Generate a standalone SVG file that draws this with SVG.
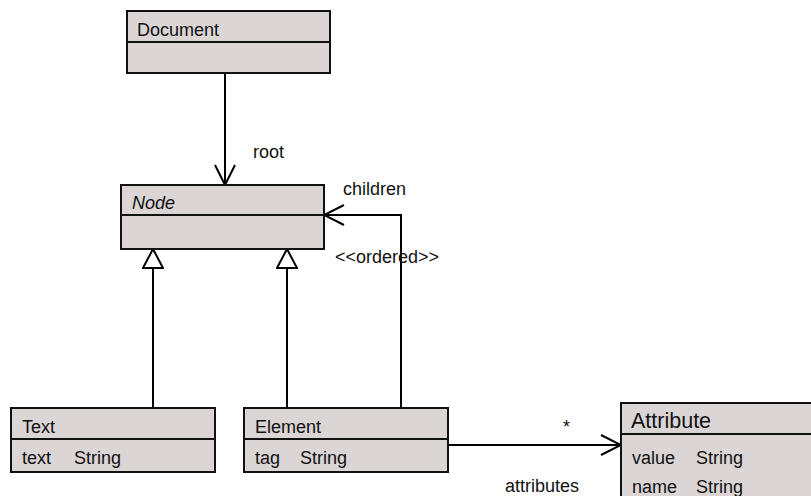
<svg xmlns="http://www.w3.org/2000/svg" width="811" height="496" viewBox="0 0 811 496">
<defs>
<style>
.box{fill:#dbd5d5;stroke:#111;stroke-width:2}
.div{stroke:#111;stroke-width:2}
.ln{fill:none;stroke:#000;stroke-width:2}
.t{font-family:"Liberation Sans",Arial,sans-serif;font-size:18px;fill:#111}
.big{font-size:21.5px}
.it{font-style:italic}
</style>
<marker id="open" viewBox="0 0 22 24" refX="21" refY="12" markerWidth="22" markerHeight="24" markerUnits="userSpaceOnUse" orient="auto">
<path d="M1,2 L21,12 L1,22" fill="none" stroke="#000" stroke-width="2"/>
</marker>
<marker id="tri" viewBox="0 0 22 22" refX="20" refY="11" markerWidth="22" markerHeight="22" markerUnits="userSpaceOnUse" orient="auto">
<path d="M1,1 L20,11 L1,21 Z" fill="#fff" stroke="#000" stroke-width="2"/>
</marker>
</defs>
<rect width="811" height="496" fill="#fff"/>
<g id="connectors">
<line class="ln" x1="225" y1="73" x2="225" y2="185" marker-end="url(#open)"/>
<line class="ln" x1="153" y1="408" x2="153" y2="249" marker-end="url(#tri)"/>
<line class="ln" x1="287" y1="408" x2="287" y2="249" marker-end="url(#tri)"/>
<polyline class="ln" points="401,408 401,215 324,215" marker-end="url(#open)"/>
<line class="ln" x1="448" y1="445" x2="621" y2="445" marker-end="url(#open)"/>
<text class="t" x="253" y="158">root</text>
<text class="t" x="343" y="195">children</text>
<text class="t" x="335" y="263">&lt;&lt;ordered&gt;&gt;</text>
<text class="t" x="563" y="433">*</text>
<text class="t" x="505" y="492">attributes</text>
</g>
<g id="Document">
<rect class="box" x="127" y="11" width="203" height="62"/>
<line class="div" x1="127" y1="42" x2="330" y2="42"/>
<text class="t" x="137" y="36">Document</text>
</g>
<g id="Node">
<rect class="box" x="121" y="185" width="203" height="64"/>
<line class="div" x1="121" y1="215" x2="324" y2="215"/>
<text class="t it" x="132" y="209">Node</text>
</g>
<g id="Text">
<rect class="box" x="11" y="408" width="204" height="64"/>
<line class="div" x1="11" y1="439" x2="215" y2="439"/>
<text class="t" x="22" y="433">Text</text>
<text class="t" x="22" y="464">text</text>
<text class="t" x="74" y="464">String</text>
</g>
<g id="Element">
<rect class="box" x="244" y="408" width="204" height="64"/>
<line class="div" x1="244" y1="439" x2="448" y2="439"/>
<text class="t" x="255" y="433">Element</text>
<text class="t" x="255" y="464">tag</text>
<text class="t" x="300" y="464">String</text>
</g>
<g id="Attribute">
<rect class="box" x="621" y="403" width="200" height="110"/>
<line class="div" x1="621" y1="434" x2="821" y2="434"/>
<text class="t big" x="631" y="428">Attribute</text>
<text class="t" x="632" y="464">value</text>
<text class="t" x="696" y="464">String</text>
<text class="t" x="632" y="493">name</text>
<text class="t" x="696" y="493">String</text>
</g>
</svg>
